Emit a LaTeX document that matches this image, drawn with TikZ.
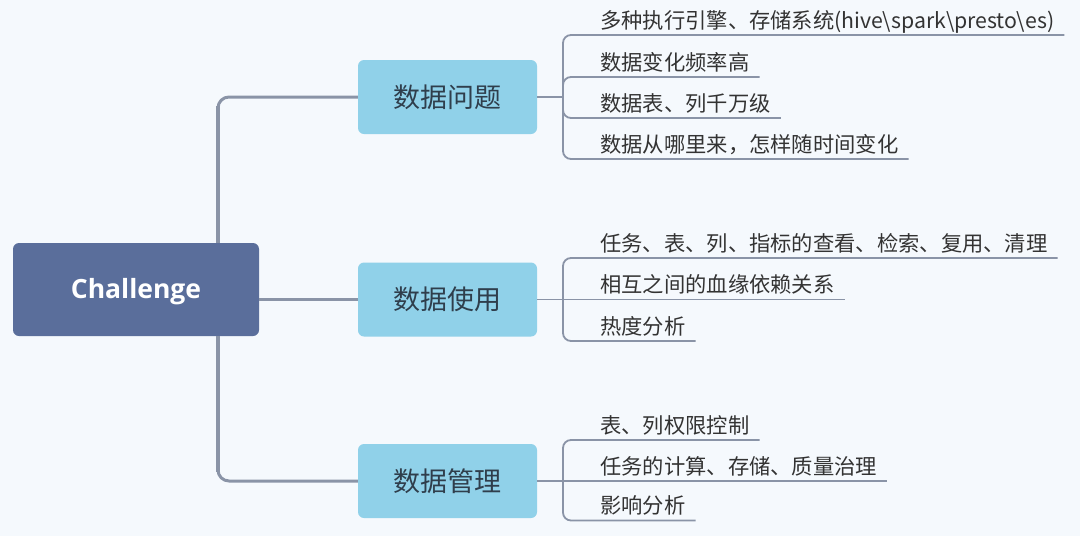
\documentclass[tikz,border=0pt]{standalone}
\usepackage{fontspec}
\usetikzlibrary{calc}
\newfontfamily\cjk{Noto Sans CJK SC}
\newfontfamily\osans{Open Sans}
\definecolor{bg}{HTML}{F5F9FD}
\definecolor{rootc}{HTML}{5A6E9B}
\definecolor{branchc}{HTML}{90D1E9}
\definecolor{linec}{HTML}{8A94A7}
\definecolor{btxt}{HTML}{2F3E4C}
\definecolor{ltxt}{HTML}{333333}
\begin{document}
\begin{tikzpicture}[x=1pt,y=-1pt,
  rootbox/.style={fill=rootc, rounded corners=6pt, minimum width=246pt, minimum height=93pt, inner sep=0pt, text=white, font=\osans\bfseries\fontsize{26.5}{30}\selectfont},
  branchbox/.style={fill=branchc, rounded corners=6pt, minimum width=179pt, minimum height=74pt, inner sep=0pt, text=btxt, font=\cjk\fontsize{27}{32}\selectfont},
  leaf/.style={anchor=base west, inner sep=0pt, text=ltxt, font=\cjk\fontsize{21.3}{25}\selectfont},
  trunk/.style={draw=linec, line width=3pt, rounded corners=11pt},
  trunkthick/.style={draw=linec, line width=4.5pt},
  twig/.style={draw=linec, line width=1.8pt, rounded corners=8pt},
]
\fill[bg] (0,0) rectangle (1080,536);
\useasboundingbox (0,0) rectangle (1080,536);

% nodes
\node[rootbox] (root) at (136,289.5) {};
\node[anchor=base, inner sep=0pt, text=white, font=\osans\bfseries\fontsize{26.5}{30}\selectfont] (roottext) at (136,298) {Challenge};
\node[branchbox] (b1) at (447.5,97) {数据问题};
\node[branchbox] (b2) at (447.5,299.5) {数据使用};
\node[branchbox] (b3) at (447.5,481) {数据管理};

\node[leaf] (l11) at (600,28) {多种执行引擎、存储系统(hive\textbackslash spark\textbackslash presto\textbackslash es)};
\node[leaf] (l12) at (600,70) {数据变化频率高};
\node[leaf] (l13) at (600,111) {数据表、列千万级};
\node[leaf] (l14) at (600,152) {数据从哪里来，怎样随时间变化};

\node[leaf] (l21) at (600,251) {任务、表、列、指标的查看、检索、复用、清理};
\node[leaf] (l22) at (600,292.5) {相互之间的血缘依赖关系};
\node[leaf] (l23) at (600,334) {热度分析};

\node[leaf] (l31) at (600,433) {表、列权限控制};
\node[leaf] (l32) at (600,474) {任务的计算、存储、质量治理};
\node[leaf] (l33) at (600,513.5) {影响分析};

% helper coordinates
\coordinate (t) at (218,0);
\coordinate (j1) at (563,97);
\coordinate (j2) at (563,299.5);
\coordinate (j3) at (563,481);
\foreach \l in {l11,l12,l13,l14,l21,l22,l23,l31,l32,l33}{
  \coordinate (e\l) at ($(\l.base east)+(10,7)$);
}

% trunk
\draw[trunk] (root.north -| t) -- (t |- b1.west) -- (b1.west);
\draw[trunkthick] (root.north -| t) -- ($(t |- b1.west)+(0,9)$);
\draw[trunk] (root.south -| t) -- (t |- b3.west) -- (b3.west);
\draw[trunkthick] (root.south -| t) -- ($(t |- b3.west)+(0,-9)$);
\draw[draw=linec, line width=2.2pt] (root.east |- b2.west) -- (b2.west);

% group 1
\draw[twig] (b1.east) -- (j1);
\foreach \l in {l11,l12,l13,l14}{
  \draw[twig] (j1) -- (j1 |- e\l) -- (e\l);
}
% group 2
\draw[twig] (b2.east) -- (el22);
\foreach \l in {l21,l23}{
  \draw[twig] (j2) -- (j2 |- e\l) -- (e\l);
}
% group 3
\draw[twig] (b3.east) -- (el32);
\foreach \l in {l31,l33}{
  \draw[twig] (j3) -- (j3 |- e\l) -- (e\l);
}
\end{tikzpicture}
\end{document}
